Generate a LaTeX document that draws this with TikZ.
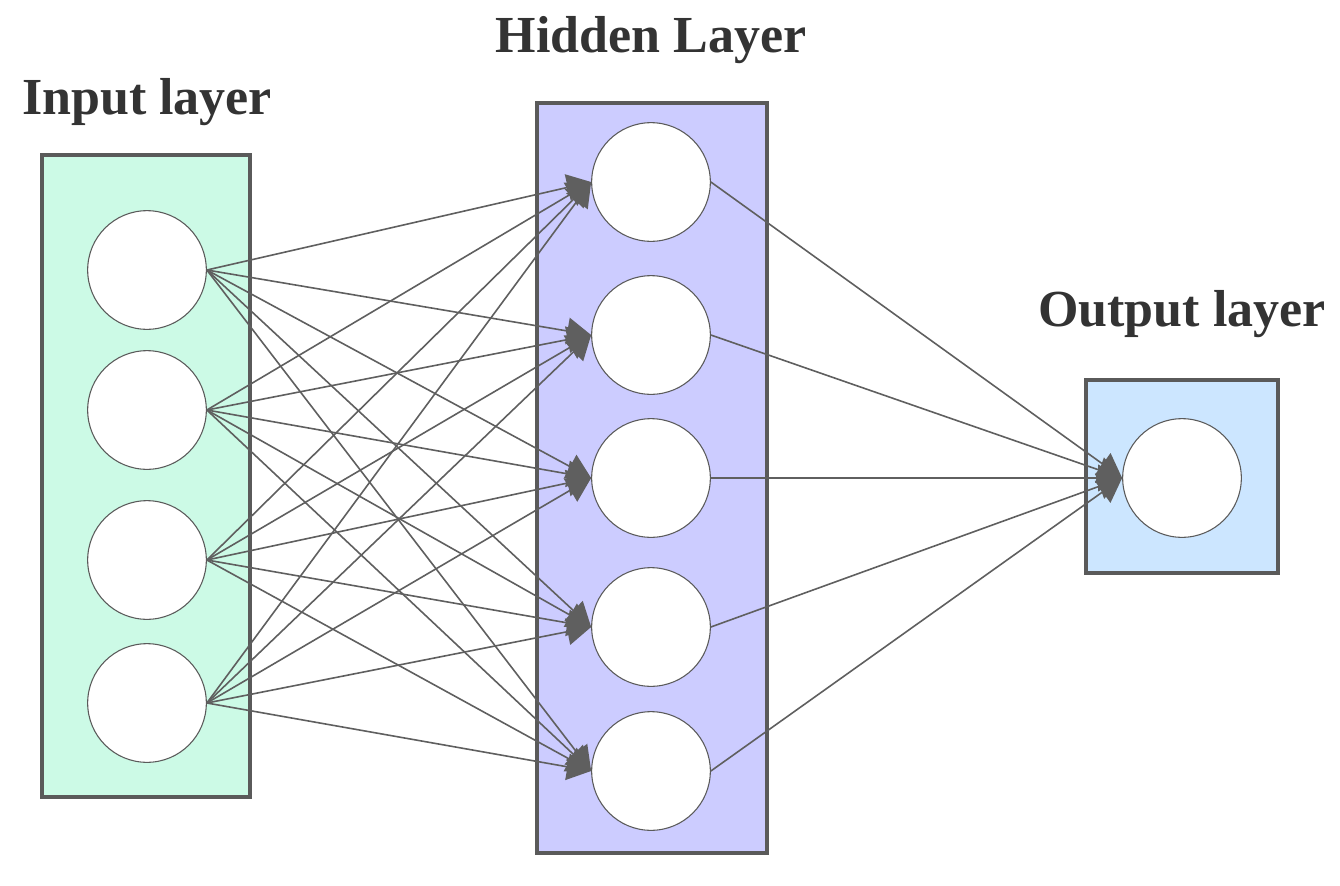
\documentclass[tikz,border=0pt]{standalone}
\usepackage{fontspec}
\setmainfont{Liberation Serif}
\usetikzlibrary{arrows.meta}
\definecolor{inF}{RGB}{204,250,230}
\definecolor{hidF}{RGB}{204,204,255}
\definecolor{outF}{RGB}{204,230,255}
\definecolor{bord}{RGB}{90,90,90}
\definecolor{edg}{RGB}{95,95,95}
\begin{document}
\begin{tikzpicture}[x=0.75pt,y=-0.75pt,
 box/.style={draw=bord,line width=3pt},
 neu/.style={circle,draw=bord,fill=white,line width=0.8pt,minimum size=89pt,inner sep=0pt},
 edge/.style={draw=edg,line width=1.2pt,-{Triangle[length=18pt,width=20pt]}},
 lab/.style={font=\bfseries\fontsize{39}{42}\selectfont,text=black!80}]
\useasboundingbox (0,0) rectangle (1340,886);
\fill[inF] (42,155) rectangle (250,797); \draw[box] (42,155) rectangle (250,797);
\fill[hidF] (537,103) rectangle (767,853); \draw[box] (537,103) rectangle (767,853);
\fill[outF] (1086,380) rectangle (1278,573); \draw[box] (1086,380) rectangle (1278,573);
\node[lab] (tin) at (147,102) {Input layer};
\node[lab] (thid) at (651,40) {Hidden Layer};
\node[lab] (tout) at (1182,314) {Output layer};
\foreach \i/\y in {1/270,2/410,3/560,4/703} \node[neu] (i\i) at (147,\y) {};
\foreach \j/\y in {1/182,2/335,3/478,4/627,5/771} \node[neu] (h\j) at (651,\y) {};
\node[neu] (o) at (1182,478) {};
\foreach \i in {1,...,4} \foreach \j in {1,...,5} \draw[edge] (i\i.east) -- (h\j.west);
\foreach \j in {1,...,5} \draw[edge] (h\j.east) -- (o.west);
\end{tikzpicture}
\end{document}
